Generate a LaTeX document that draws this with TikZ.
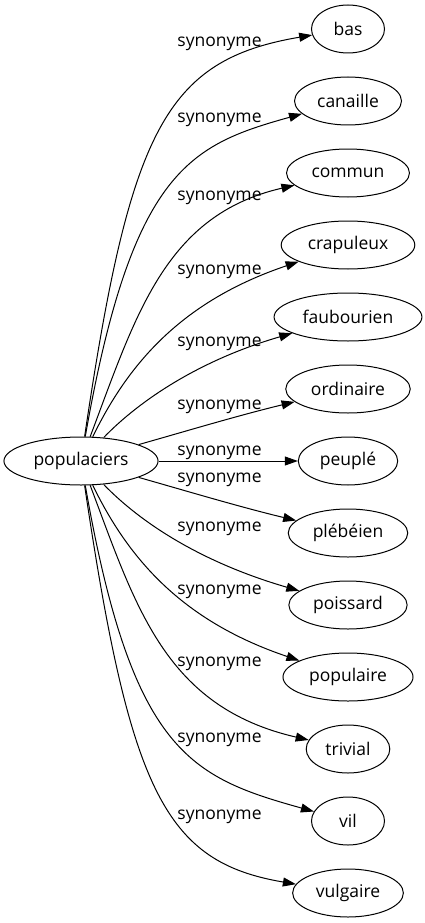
\documentclass[tikz,border=0pt]{standalone}
\usepackage{fontspec}
\setmainfont{Open Sans}
\usetikzlibrary{shapes.geometric,arrows.meta}

\begin{document}
\begin{tikzpicture}[x=1pt, y=-1pt,
    font=\fontsize{17.5}{21}\selectfont,
    word/.style={draw, ellipse, line width=1pt, inner xsep=7pt, inner ysep=3pt, minimum width=73pt, minimum height=48pt},
    syn/.style={anchor=base, inner sep=0pt},
    rel/.style={line width=1pt, -{Triangle[length=13pt, width=9pt]}}]
    \useasboundingbox (0,0) rectangle (425,923);

    % source word
    \node[word] (pop) at (81,461) {populaciers};

    % synonyms (right column)
    \node[word] (bas) at (348,29) {bas};
    \node[word] (canaille) at (348,101) {canaille};
    \node[word] (commun) at (348,173) {commun};
    \node[word] (crapuleux) at (348,245) {crapuleux};
    \node[word] (faubourien) at (348,317) {faubourien};
    \node[word] (ordinaire) at (348,389) {ordinaire};
    \node[word] (peuple) at (348,461) {peuplé};
    \node[word] (plebeien) at (348,533) {plébéien};
    \node[word] (poissard) at (348,605) {poissard};
    \node[word] (populaire) at (348,677) {populaire};
    \node[word] (trivial) at (348,749) {trivial};
    \node[word] (vil) at (348,821) {vil};
    \node[word] (vulgaire) at (348,893) {vulgaire};

    % edge labels
    \node[syn] (s1) at (219.5,47) {synonyme};
    \node[syn] (s2) at (219.5,123) {synonyme};
    \node[syn] (s3) at (219.5,200) {synonyme};
    \node[syn] (s4) at (219.5,274) {synonyme};
    \node[syn] (s5) at (219.5,346) {synonyme};
    \node[syn] (s6) at (219.5,409) {synonyme};
    \node[syn] (s7) at (219.5,455) {synonyme};
    \node[syn] (s8) at (219.5,482) {synonyme};
    \node[syn] (s9) at (219.5,531) {synonyme};
    \node[syn] (s10) at (219.5,594) {synonyme};
    \node[syn] (s11) at (219.5,666) {synonyme};
    \node[syn] (s12) at (219.5,742) {synonyme};
    \node[syn] (s13) at (219.5,819) {synonyme};

    % edges
    \draw[rel] (pop) .. controls (130,130) and (165,60) .. (bas);
    \draw[rel] (pop) .. controls (132,170) and (190,145) .. (canaille);
    \draw[rel] (pop) .. controls (136,315) and (165,215) .. (commun);
    \draw[rel] (pop) .. controls (130,360) and (185,300) .. (crapuleux);
    \draw[rel] (pop) .. controls (140,400) and (200,360) .. (faubourien);
    \draw[rel] (pop) .. controls (190,430) and (240,415) .. (ordinaire);
    \draw[rel] (pop) -- (peuple);
    \draw[rel] (pop) .. controls (190,492) and (240,507) .. (plebeien);
    \draw[rel] (pop) .. controls (140,522) and (200,562) .. (poissard);
    \draw[rel] (pop) .. controls (130,562) and (185,622) .. (populaire);
    \draw[rel] (pop) .. controls (136,607) and (165,707) .. (trivial);
    \draw[rel] (pop) .. controls (132,752) and (190,777) .. (vil);
    \draw[rel] (pop) .. controls (130,792) and (165,862) .. (vulgaire);
\end{tikzpicture}
\end{document}
